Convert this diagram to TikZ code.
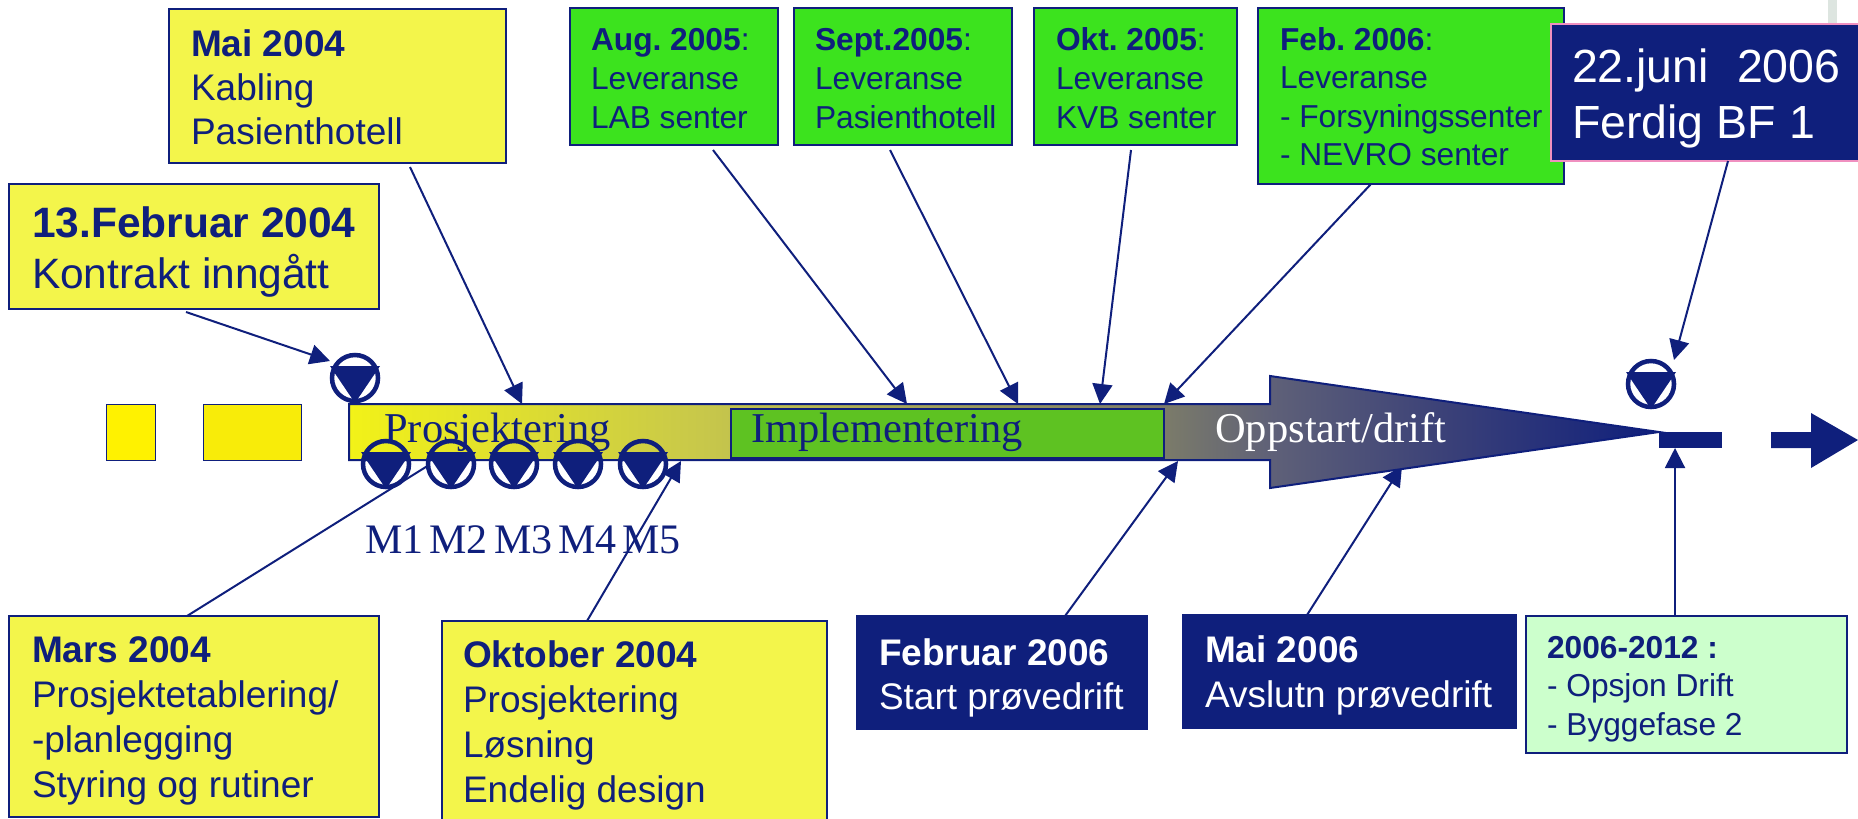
\documentclass[tikz,border=0pt]{standalone}
\usepackage{fontspec}
\setmainfont{Liberation Sans}
\newfontfamily\lblfont{Liberation Serif}
\usetikzlibrary{arrows.meta}
\definecolor{navy}{HTML}{0F1F7C}
\definecolor{boxyellow}{HTML}{F3F54B}
\definecolor{boxgreen}{HTML}{3CE31E}
\definecolor{innergreen}{HTML}{5EC222}
\definecolor{palegreen}{HTML}{CCFFCC}
\definecolor{pinkedge}{HTML}{F090C0}
\definecolor{stripgrey}{HTML}{DDE5E0}
\definecolor{armA}{HTML}{F2F218}
\definecolor{armB}{HTML}{C8C84A}
\definecolor{armC}{HTML}{7A7A6A}
\definecolor{armD}{HTML}{5E6078}
\definecolor{armE}{HTML}{3A4078}
\pgfdeclarehorizontalshading{armshade}{100bp}{color(0bp)=(armA); color(25bp)=(armA); color(38.4bp)=(armB); color(56.3bp)=(armC); color(60.3bp)=(armD); color(67bp)=(armE); color(75bp)=(navy); color(100bp)=(navy)}
\frenchspacing
\newcommand\PX[1]{\dimexpr#1pt*3/4\relax}
\newcommand\fpx[1]{\fontsize{\the\dimexpr#1pt*3/4\relax}{0pt}\selectfont}
\newcommand\bxset[4]{\def\bxtx{#1}\def\bxfb{#2}\def\bxst{#3}\def\bxfs{#4}}
\newcommand\tline[1]{\vskip\PX{\bxst}\relax\hbox to\hsize{\kern\dimexpr(\bxtx pt-\bxx pt)*3/4\relax\smash{#1}\hss}}
% name, style, x1, y1, x2, y2, lines (absolute text x and first baseline come from \bxset)
\newcommand\bx[7]{%
  \node[#2,anchor=north west,inner sep=0pt,outer sep=0pt] (#1) at (#3,#4) {%
    \vbox to \dimexpr(#6pt-#4pt)*3/4\relax{\hsize=\dimexpr(#5pt-#3pt)*3/4\relax
      \offinterlineskip\fpx{\bxfs}\frenchspacing\def\bxx{#3}%
      \vskip\dimexpr(\bxfb pt-#4pt-\bxst pt)*3/4\relax
      #7\vfil}};}
\newcommand\ms[3]{%
  \node[milestone] (#1) at (#2,#3) {};
  \fill[navy] ([shift={(-25,-12)}]#1.center) -- ([shift={(25,-12)}]#1.center) -- ([shift={(0,25)}]#1.center) -- cycle;}
\tikzset{
  x=.75pt,y=-.75pt,
  yellowbox/.style={draw=navy,line width=1.5pt,fill=boxyellow,text=navy},
  greenbox/.style={draw=navy,line width=1.5pt,fill=boxgreen,text=navy},
  navybox/.style={draw=navy,line width=1.5pt,fill=navy,text=white},
  finalbox/.style={draw=pinkedge,line width=1.5pt,fill=navy,text=white},
  paleBox/.style={draw=navy,line width=1.5pt,fill=palegreen,text=navy},
  link/.style={draw=navy,line width=1.5pt,-{Triangle[length=15pt,width=15pt]}},
  plainlink/.style={draw=navy,line width=1.5pt},
  milestone/.style={circle,draw=navy,line width=3.4pt,minimum size=34.5pt,inner sep=0pt},
  phase/.style={anchor=base west,inner sep=0pt,font=\lblfont\fpx{42.5},text=navy},
  mlabel/.style={anchor=base west,inner sep=0pt,font=\lblfont\fpx{42},text=navy},
}
\begin{document}
\begin{tikzpicture}
\useasboundingbox (0,0) rectangle (1858,818);
\fill[stripgrey] (1828,0) rectangle (1837,24);
% coordinates for connector ends
\coordinate (tA) at (330,361);
\coordinate (tB) at (522,404);
\coordinate (tC) at (907,404);
\coordinate (tD) at (1018,404);
\coordinate (tE) at (1100,404);
\coordinate (tF) at (1164,404);
\coordinate (tG) at (1674,360);
\coordinate (tH) at (681,461);
\coordinate (tI) at (1178,461);
\coordinate (tJ) at (1402,466);
\coordinate (tK) at (1675,448);
\coordinate (tL) at (429,465);

% small lead squares
\node[draw=navy,line width=1pt,fill=yellow,minimum width=\PX{49},minimum height=\PX{56},inner sep=0pt,anchor=north west] (sq1) at (106,404) {};
\node[draw=navy,line width=1pt,fill=yellow!97!navy,minimum width=\PX{98},minimum height=\PX{56},inner sep=0pt,anchor=north west] (sq2) at (203,404) {};

% boxes
\bxset{191}{56}{44}{37}
\bx{mai}{yellowbox}{169}{9}{506}{163}{\tline{\textbf{Mai 2004}}\tline{Kabling}\tline{Pasienthotell}}
\bxset{32}{237}{51}{42.5}
\bx{feb}{yellowbox}{9}{184}{379}{309}{\tline{\textbf{13.Februar 2004}}\tline{Kontrakt inngått}}
\bxset{591}{50}{39}{31.7}
\bx{aug}{greenbox}{570}{8}{778}{145}{\tline{\textbf{Aug. 2005}:}\tline{Leveranse}\tline{LAB senter}}
\bxset{815}{50}{39}{31.7}
\bx{sept}{greenbox}{794}{8}{1012}{145}{\tline{\textbf{Sept.2005}:}\tline{Leveranse}\tline{Pasienthotell}}
\bxset{1056}{50}{39}{31.7}
\bx{okt}{greenbox}{1034}{8}{1237}{145}{\tline{\textbf{Okt. 2005}:}\tline{Leveranse}\tline{KVB senter}}
\bxset{1280}{50}{38.5}{31.7}
\bx{febsix}{greenbox}{1258}{8}{1564}{184}{\tline{\textbf{Feb. 2006}:}\tline{Leveranse}\tline{- Forsyningssenter}\tline{- NEVRO senter}}
\bxset{32}{662}{45}{37}
\bx{mars}{yellowbox}{9}{616}{379}{817}{\tline{\textbf{Mars 2004}}\tline{Prosjektetablering/}\tline{-planlegging}\tline{Styring og rutiner}}
\bxset{463}{667}{45}{37}
\bx{oktober}{yellowbox}{442}{621}{827}{820}{\tline{\textbf{Oktober 2004}}\tline{Prosjektering}\tline{Løsning}\tline{Endelig design}}
\bxset{879}{665}{44}{37}
\bx{start}{navybox}{857}{616}{1147}{729}{\tline{\textbf{Februar 2006}}\tline{Start prøvedrift}}
\bxset{1205}{662}{45}{37}
\bx{avslutn}{navybox}{1183}{615}{1516}{728}{\tline{\textbf{Mai 2006}}\tline{Avslutn prøvedrift}}
\bxset{1547}{658}{38.5}{31.7}
\bx{opsjon}{paleBox}{1526}{616}{1847}{753}{\tline{\textbf{2006-2012 :}}\tline{- Opsjon Drift}\tline{- Byggefase 2}}

% connectors that pass beneath the arrow
\draw[link] ([shift={(177,3)}]feb.south west) -- (tA);
\draw[link] ([shift={(241,4)}]mai.south west) -- (tB);
\draw[link] ([shift={(143,5)}]aug.south west) -- (tC);
\draw[link] ([shift={(96,5)}]sept.south west) -- (tD);
\draw[link] ([shift={(97,5)}]okt.south west) -- (tE);
\draw[link] ([shift={(113,0)}]febsix.south west) -- (tF);
\draw[link] ([shift={(145,0)}]oktober.north west) -- (tH);
\draw[link] ([shift={(208,0)}]start.north west) -- (tI);
\draw[link] ([shift={(124,0)}]avslutn.north west) -- (tJ);
\draw[link] ([shift={(149,0)}]opsjon.north west) -- (tK);
\draw[plainlink] ([shift={(178,0)}]mars.north west) -- (tL);

% main arrow
\draw[navy,line width=1.5pt,shade,shading=armshade]
  (349,404) -- (1270,404) -- (1270,376) -- (1659,432) -- (1270,488) -- (1270,460) -- (349,460) -- cycle;
\node[draw=navy,line width=1.5pt,fill=innergreen,minimum width=\PX{433},minimum height=\PX{49},inner sep=0pt,anchor=north west] (impl) at (730,408) {};

\node[phase] (pros) at (384,442) {Prosjektering};
\node[phase] (imple) at (751,442) {Implementering};
\node[phase,text=white] (opp) at (1215,442) {Oppstart/drift};

% tail of the arrow
\node[fill=navy,minimum width=\PX{63},minimum height=\PX{16},inner sep=0pt,anchor=north west] (dash) at (1659,432) {};
\fill[navy] (1771,432) -- (1811,432) -- (1811,413) -- (1858,440) -- (1811,468) -- (1811,448) -- (1771,448) -- cycle;

% milestones
\ms{top}{355}{378}
\ms{m1}{386}{464}
\ms{m2}{451}{464}
\ms{m3}{514}{464}
\ms{m4}{578}{464}
\ms{m5}{643}{464}
\ms{end}{1651}{384}

\node[mlabel] (l1) at (365,553) {M1};
\node[mlabel] (l2) at (429,553) {M2};
\node[mlabel] (l3) at (494,553) {M3};
\node[mlabel] (l4) at (558,553) {M4};
\node[mlabel] (l5) at (622,553) {M5};

% final box
\bxset{1572}{82}{56}{46.5}
\bx{ferdig}{finalbox}{1551}{24}{1870}{161}{\tline{22.juni\kern21pt 2006}\tline{Ferdig BF 1}}
\draw[link] ([shift={(177,0)}]ferdig.south west) -- (tG);
\end{tikzpicture}
\end{document}
